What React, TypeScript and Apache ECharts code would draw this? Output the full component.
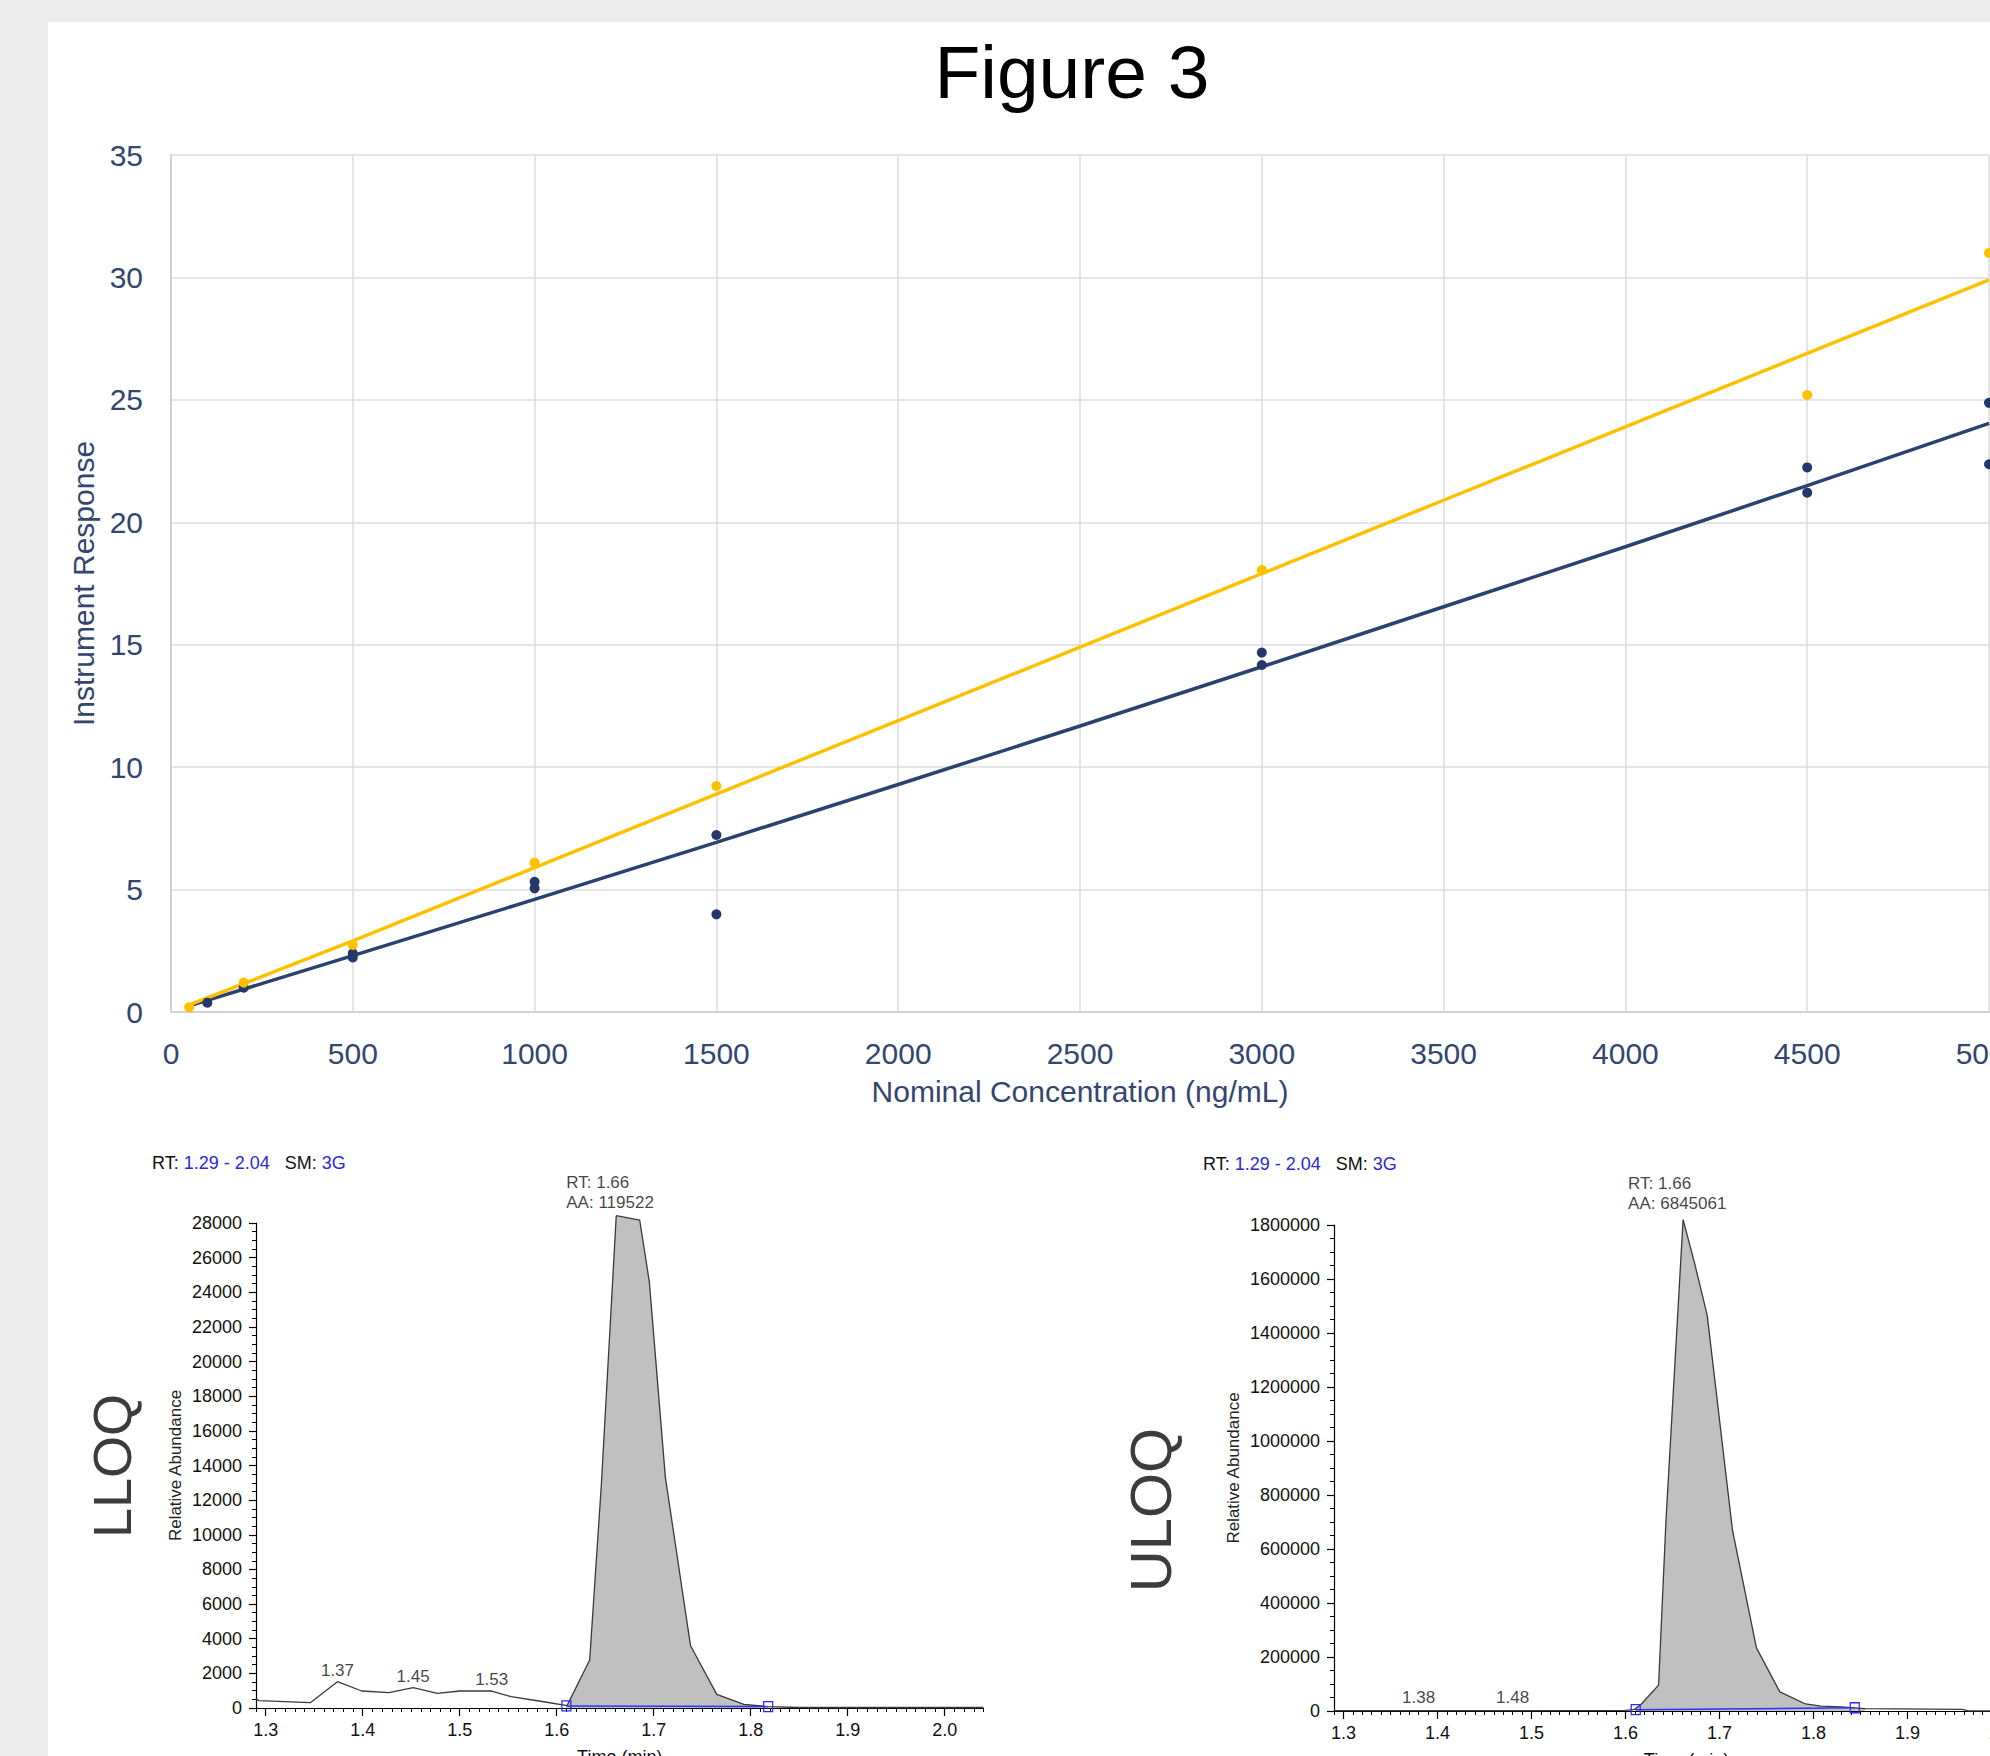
import React, { useEffect, useRef } from "react";
import * as echarts from "echarts";

// ---------- Calibration curve (top) ----------
const concTicks = [0, 500, 1000, 1500, 2000, 2500, 3000, 3500, 4000, 4500, 5000];
const responseTicks = [0, 5, 10, 15, 20, 25, 30, 35];

const navyConc = [100, 200, 500, 500, 1000, 1000, 1500, 1500, 3000, 3000, 4500, 4500, 5000, 5000];
const navyResp = [0.38, 0.99, 2.4, 2.23, 5.32, 5.05, 7.23, 3.99, 14.68, 14.17, 22.24, 21.21, 24.88, 22.37];
const goldConc = [50, 200, 500, 1000, 1500, 3000, 4500, 5000];
const goldResp = [0.19, 1.2, 2.74, 6.1, 9.23, 18.05, 25.2, 31.0];

const fitConc = [50, 500, 1000, 1500, 2000, 2500, 3000, 3500, 4000, 4500, 5000];
const navyFit = [0.25, 2.3, 4.6, 6.93, 9.29, 11.68, 14.1, 16.55, 19.0, 21.5, 24.04];
const goldFit = [0.29, 2.9, 5.9, 8.9, 11.9, 14.9, 17.9, 20.9, 23.9, 26.9, 29.9];

// ---------- LLOQ chromatogram ----------
const lloqTime = [1.29, 1.293, 1.346, 1.374, 1.399, 1.427, 1.452, 1.477, 1.5, 1.533, 1.553, 1.585, 1.6107, 1.634, 1.646, 1.6614, 1.6856, 1.6955, 1.712, 1.738, 1.765, 1.793, 1.818, 1.85, 1.95, 2.04];
const lloqAbund = [560, 420, 306, 1518, 981, 884, 1172, 847, 981, 981, 654, 375, 135, 2771, 12860, 28420, 28160, 24600, 13330, 3590, 789, 213, 77, 30, 30, 30];
const lloqPeakStart = 12; // index of 1.6107
const lloqPeakEnd = 22; // index of 1.818
const lloqBaseTime = [1.61, 1.818];
const lloqBaseAbund = [120, 80];
const lloqMinorTime = [1.374, 1.452, 1.533];
const lloqMinorAbund = [1518, 1172, 981];
const lloqMinorLabels = ["1.37", "1.45", "1.53"];
const lloqApex = [1.6614, 28420];
const lloqApexText = ["RT: 1.66", "AA: 119522"];
const lloqYTicks = [0, 2000, 4000, 6000, 8000, 10000, 12000, 14000, 16000, 18000, 20000, 22000, 24000, 26000, 28000];

// ---------- ULOQ chromatogram ----------
const uloqTime = [1.29, 1.4, 1.5, 1.6, 1.6098, 1.6165, 1.6353, 1.6433, 1.6614, 1.6735, 1.687, 1.7139, 1.7394, 1.7643, 1.7917, 1.808, 1.83, 1.855, 1.958, 1.965, 2.04];
const uloqAbund = [1500, 1500, 1500, 2500, 6000, 24000, 96000, 715000, 1820000, 1660000, 1466000, 670000, 234000, 71000, 26000, 18000, 15000, 8600, 6000, 800, 800];
const uloqPeakStart = 4; // 1.6098
const uloqPeakEnd = 17; // 1.855
const uloqBaseTime = [1.611, 1.844];
const uloqBaseAbund = [5000, 12000];
const uloqMinorTime = [1.38, 1.48];
const uloqMinorAbund = [6000, 6000];
const uloqMinorLabels = ["1.38", "1.48"];
const uloqApex = [1.6614, 1820000];
const uloqApexText = ["RT: 1.66", "AA: 6845061"];

const timeMajorTicks = [1.3, 1.4, 1.5, 1.6, 1.7, 1.8, 1.9, 2.0];
const rtRange = "1.29 - 2.04";
const smoothing = "3G";

const FONT = "'Liberation Sans', Arial, sans-serif";
const NAVY_TEXT = "#34466f";
const NAVY = "#23396a";
const GOLD = "#ffc000";
const BLUE_TXT = "#2a2ad2";

function chromAxes(grid: number, yMax: number, yInterval: number, nameGap: number) {
  const x = [
    {
      type: "value",
      gridIndex: grid,
      position: "bottom",
      min: 1.29,
      max: 2.04,
      axisLine: { show: true, lineStyle: { color: "#000", width: 1.2 } },
      axisTick: { show: true, customValues: timeMajorTicks, length: 8, lineStyle: { color: "#000", width: 1.2 } },
      axisLabel: {
        show: true,
        customValues: timeMajorTicks,
        formatter: (v: number) => v.toFixed(1),
        fontSize: 18,
        color: "#111",
        fontFamily: FONT,
        margin: 13,
      },
      splitLine: { show: false },
      name: "Time (min)",
      nameLocation: "middle",
      nameGap: 40,
      nameTextStyle: { fontSize: 18, color: "#111", fontFamily: FONT },
    },
    {
      type: "value",
      gridIndex: grid,
      position: "bottom",
      offset: 0,
      min: 1.29,
      max: 2.04,
      interval: 0.01,
      axisLine: { show: false },
      axisTick: { show: true, length: 4, lineStyle: { color: "#000", width: 1 } },
      axisLabel: { show: false },
      splitLine: { show: false },
    },
  ];
  const y = {
    type: "value",
    gridIndex: grid,
    min: 0,
    max: yMax,
    interval: yInterval,
    axisLine: { show: true, lineStyle: { color: "#000", width: 1.2 } },
    axisTick: { show: true, length: 7, lineStyle: { color: "#000", width: 1.2 } },
    minorTick: { show: true, splitNumber: 4, length: 4, lineStyle: { color: "#000", width: 1 } },
    axisLabel: { formatter: (v: number) => String(v), fontSize: 18, color: "#111", fontFamily: FONT, margin: 14 },
    splitLine: { show: false },
    minorSplitLine: { show: false },
    name: "Relative Abundance",
    nameLocation: "middle",
    nameGap: nameGap,
    nameTextStyle: { fontSize: 17, color: "#222", fontFamily: FONT },
  };
  return { x, y };
}

function chromSeries(
  xIdx: number,
  yIdx: number,
  time: number[],
  abund: number[],
  pStart: number,
  pEnd: number,
  baseT: number[],
  baseA: number[],
  minorT: number[],
  minorA: number[],
  minorL: string[],
  apex: number[],
  apexText: string[],
  apexOffset: number,
  apexDist: number
) {
  const trace = time.map((t, i) => [t, abund[i]]);
  return [
    {
      type: "line",
      xAxisIndex: xIdx,
      yAxisIndex: yIdx,
      data: trace.slice(pStart, pEnd + 1),
      showSymbol: false,
      clip: false,
      lineStyle: { width: 0 },
      areaStyle: { color: "#c0c0c0", opacity: 1 },
      silent: true,
      z: 2,
    },
    {
      type: "line",
      xAxisIndex: xIdx,
      yAxisIndex: yIdx,
      data: trace,
      showSymbol: false,
      clip: false,
      lineStyle: { color: "#3a3a3a", width: 1.3 },
      silent: true,
      z: 3,
    },
    {
      type: "line",
      xAxisIndex: xIdx,
      yAxisIndex: yIdx,
      data: baseT.map((t, i) => [t, baseA[i]]),
      symbol: "rect",
      symbolSize: [9, 10],
      showSymbol: true,
      clip: false,
      lineStyle: { color: "#3030ff", width: 1.5 },
      itemStyle: { color: "rgba(0,0,0,0)", borderColor: "#2a2aff", borderWidth: 1.3 },
      silent: true,
      z: 4,
    },
    {
      type: "scatter",
      xAxisIndex: xIdx,
      yAxisIndex: yIdx,
      data: minorT.map((t, i) => [t, minorA[i], minorL[i]]),
      symbolSize: 0,
      clip: false,
      label: {
        show: true,
        position: "top",
        distance: 3,
        formatter: (p: any) => p.data[2],
        fontSize: 17,
        color: "#111",
        fontFamily: FONT,
      },
      silent: true,
      z: 5,
    },
    {
      type: "scatter",
      xAxisIndex: xIdx,
      yAxisIndex: yIdx,
      data: [[apex[0], apex[1]]],
      symbolSize: 0,
      clip: false,
      label: {
        show: true,
        position: "top",
        distance: apexDist,
        align: "left",
        offset: [apexOffset, 0],
        formatter: apexText.join("\n"),
        fontSize: 17,
        lineHeight: 20,
        color: "#111",
        fontFamily: FONT,
      },
      silent: true,
      z: 5,
    },
  ];
}

export default function App() {
  const ref = useRef<HTMLDivElement>(null);

  useEffect(() => {
    if (!ref.current) return;
    const chart = echarts.init(ref.current, undefined, { renderer: "svg" });

    const l = chromAxes(1, lloqYTicks[lloqYTicks.length - 1], 2000, 72);
    const u = chromAxes(2, 1800000, 200000, 92);

    const headerRich = {
      k: { fontSize: 18, fill: "#111", fontFamily: FONT },
      b: { fontSize: 18, fill: BLUE_TXT, fontFamily: FONT },
    };

    const option: any = {
      animation: false,
      backgroundColor: "transparent",
      grid: [
        { left: 171, top: 155, width: 1818, height: 857, outerBoundsMode: "none", containLabel: false },
        { left: 256, top: 1223, width: 727.5, height: 485, outerBoundsMode: "none", containLabel: false },
        { left: 1334, top: 1225, width: 705, height: 486, outerBoundsMode: "none", containLabel: false },
      ],
      xAxis: [
        {
          type: "value",
          gridIndex: 0,
          min: concTicks[0],
          max: concTicks[concTicks.length - 1],
          interval: 500,
          axisLine: { show: true, lineStyle: { color: "#d2d2d2", width: 2 } },
          axisTick: { show: false },
          splitLine: { show: true, lineStyle: { color: "#dddddd", width: 1.5 } },
          axisLabel: { formatter: (v: number) => String(v), fontSize: 30, color: NAVY_TEXT, fontFamily: FONT, margin: 26 },
          name: "Nominal Concentration (ng/mL)",
          nameLocation: "middle",
          nameGap: 64,
          nameTextStyle: { fontSize: 30, color: NAVY_TEXT, fontFamily: FONT },
        },
        ...l.x,
        ...u.x,
      ],
      yAxis: [
        {
          type: "value",
          gridIndex: 0,
          min: responseTicks[0],
          max: responseTicks[responseTicks.length - 1],
          interval: 5,
          axisLine: { show: true, lineStyle: { color: "#d2d2d2", width: 2 } },
          axisTick: { show: false },
          splitLine: { show: true, lineStyle: { color: "#dddddd", width: 1.5 } },
          axisLabel: { formatter: (v: number) => String(v), fontSize: 30, color: NAVY_TEXT, fontFamily: FONT, margin: 28 },
          name: "Instrument Response",
          nameLocation: "middle",
          nameGap: 70,
          nameTextStyle: { fontSize: 30, color: NAVY_TEXT, fontFamily: FONT },
        },
        l.y,
        u.y,
      ],
      series: [
        {
          type: "line",
          xAxisIndex: 0,
          yAxisIndex: 0,
          data: fitConc.map((c, i) => [c, navyFit[i]]),
          showSymbol: false,
          lineStyle: { color: "#2b4170", width: 3.5 },
          silent: true,
          z: 2,
        },
        {
          type: "line",
          xAxisIndex: 0,
          yAxisIndex: 0,
          data: fitConc.map((c, i) => [c, goldFit[i]]),
          showSymbol: false,
          lineStyle: { color: GOLD, width: 3.5 },
          silent: true,
          z: 2,
        },
        {
          type: "scatter",
          xAxisIndex: 0,
          yAxisIndex: 0,
          data: navyConc.map((c, i) => [c, navyResp[i]]),
          symbolSize: 10,
          itemStyle: { color: NAVY, opacity: 1 },
          silent: true,
          z: 3,
        },
        {
          type: "scatter",
          xAxisIndex: 0,
          yAxisIndex: 0,
          data: goldConc.map((c, i) => [c, goldResp[i]]),
          symbolSize: 10,
          itemStyle: { color: GOLD, opacity: 1 },
          silent: true,
          z: 3,
        },
        ...chromSeries(1, 1, lloqTime, lloqAbund, lloqPeakStart, lloqPeakEnd, lloqBaseTime, lloqBaseAbund,
          lloqMinorTime, lloqMinorAbund, lloqMinorLabels, lloqApex, lloqApexText, -50, 3),
        ...chromSeries(3, 2, uloqTime, uloqAbund, uloqPeakStart, uloqPeakEnd, uloqBaseTime, uloqBaseAbund,
          uloqMinorTime, uloqMinorAbund, uloqMinorLabels, uloqApex, uloqApexText, -55, 6),
      ],
      graphic: [
        {
          type: "text",
          x: 1072,
          y: 72,
          style: { text: "Figure 3", fontSize: 75, fontFamily: FONT, fill: "#000", textAlign: "center", textVerticalAlign: "middle" },
        },
        {
          type: "text",
          x: 152,
          y: 1163,
          style: {
            text: `{k|RT:} {b|${rtRange}}   {k|SM:} {b|${smoothing}}`,
            rich: headerRich,
            textVerticalAlign: "middle",
            fontSize: 18,
            fontFamily: FONT,
            fill: "#111",
          },
        },
        {
          type: "text",
          x: 1203,
          y: 1164,
          style: {
            text: `{k|RT:} {b|${rtRange}}   {k|SM:} {b|${smoothing}}`,
            rich: headerRich,
            textVerticalAlign: "middle",
            fontSize: 18,
            fontFamily: FONT,
            fill: "#111",
          },
        },
        {
          type: "text",
          x: 112,
          y: 1466,
          rotation: Math.PI / 2,
          style: { text: "LLOQ", fontSize: 54, fontFamily: FONT, fill: "#3c3c3c", textAlign: "center", textVerticalAlign: "middle" },
        },
        {
          type: "text",
          x: 1150,
          y: 1510,
          rotation: Math.PI / 2,
          style: { text: "ULOQ", fontSize: 58, fontFamily: FONT, fill: "#3c3c3c", textAlign: "center", textVerticalAlign: "middle" },
        },
      ],
    };

    chart.setOption(option);
    return () => chart.dispose();
  }, []);

  return (
    <div style={{ position: "absolute", left: 0, top: 0, width: 1990, height: 1756, background: "#ececec", overflow: "hidden" }}>
      <div style={{ position: "absolute", left: 48, top: 22, right: 0, bottom: 0, background: "#ffffff" }} />
      <div ref={ref} style={{ position: "absolute", left: 0, top: 0, width: 1990, height: 1756 }} />
    </div>
  );
}
